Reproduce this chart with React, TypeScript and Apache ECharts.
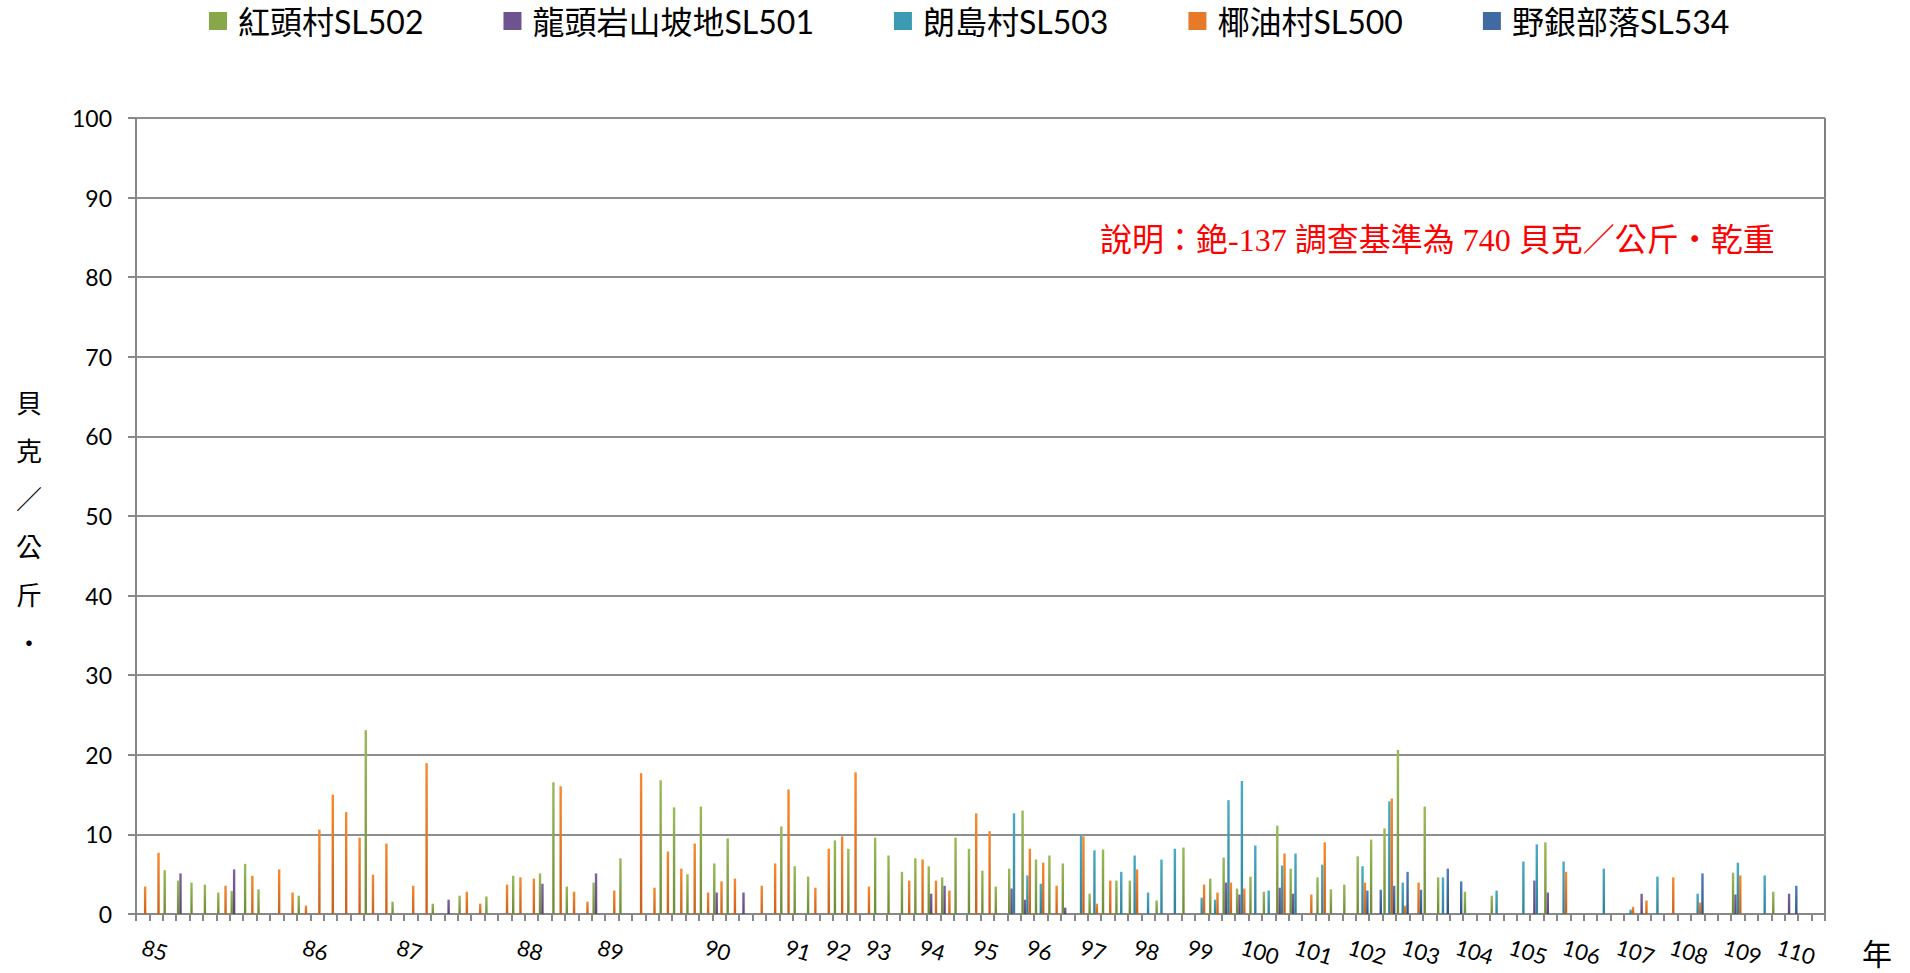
import React, { useEffect, useRef } from 'react';
import * as echarts from 'echarts';

// number of sampling occasions (categories on the x axis)
const sampleCount = 126;

// year labels: [category index, label]
const yearLabels: [number, string][] = [
  [0, '85'], [12, '86'], [19, '87'], [28, '88'], [34, '89'], [42, '90'], [48, '91'], [51, '92'],
  [54, '93'], [58, '94'], [62, '95'], [66, '96'], [70, '97'], [74, '98'], [78, '99'], [82, '100'],
  [86, '101'], [90, '102'], [94, '103'], [98, '104'], [102, '105'], [106, '106'], [110, '107'],
  [114, '108'], [118, '109'], [122, '110'],
];

const seriesNames = ['紅頭村SL502', '龍頭岩山坡地SL501', '朗島村SL503', '椰油村SL500', '野銀部落SL534'];

// values: [category index, 貝克/公斤]
const hongtou: [number, number][] = [
  [2, 5.5], [3, 4.2], [4, 3.95], [5, 3.7], [6, 2.7], [7, 2.9], [8, 6.3], [9, 3.1], [12, 2.3], [17, 23.1],
  [19, 1.55], [22, 1.3], [24, 2.3], [26, 2.2], [28, 4.8], [30, 5.1], [31, 16.55], [32, 3.45], [34, 3.95],
  [36, 7.0], [39, 16.8], [40, 13.4], [41, 5.0], [42, 13.5], [43, 6.35], [44, 9.5], [48, 11.0], [49, 6.0],
  [50, 4.7], [52, 9.25], [53, 8.2], [55, 9.6], [56, 7.35], [57, 5.3], [58, 7.0], [59, 6.0], [60, 4.6],
  [61, 9.6], [62, 8.2], [63, 5.45], [64, 3.45], [65, 5.7], [66, 13.0], [67, 6.85], [68, 7.35], [69, 6.35],
  [71, 2.55], [72, 8.1], [73, 4.2], [74, 4.2], [76, 1.7], [78, 8.35], [80, 4.45], [81, 7.1], [82, 3.2],
  [83, 4.7], [84, 2.8], [85, 11.1], [86, 5.7], [88, 4.6], [89, 3.1], [90, 3.7], [91, 7.25], [92, 9.35],
  [93, 10.75], [94, 20.6], [96, 13.5], [97, 4.6], [99, 2.8], [101, 2.3], [105, 9.0], [119, 5.2], [122, 2.8],
];

const longtouyan: [number, number][] = [
  [3, 5.1], [7, 5.6], [23, 1.8], [30, 3.8], [34, 5.1], [43, 2.7], [45, 2.7], [59, 2.55], [60, 3.55],
  [65, 3.2], [66, 1.8], [69, 0.8], [81, 3.95], [82, 2.45], [85, 3.3], [86, 2.55], [104, 4.2], [105, 2.7],
  [112, 2.55], [119, 2.45], [123, 2.55],
];

const langdao: [number, number][] = [
  [65, 12.65], [66, 4.85], [67, 3.8], [70, 9.9], [71, 8.0], [73, 5.3], [74, 7.35], [75, 2.7], [76, 6.85],
  [77, 8.2], [79, 2.05], [80, 1.8], [81, 14.3], [82, 16.7], [83, 8.6], [84, 2.95], [85, 6.1], [86, 7.6],
  [88, 6.2], [91, 6.0], [93, 14.15], [94, 3.95], [97, 4.6], [101, 2.95], [103, 6.6], [104, 8.75],
  [106, 6.6], [109, 5.7], [111, 0.55], [113, 4.7], [116, 2.55], [119, 6.45], [121, 4.85],
];

const yeyou: [number, number][] = [
  [0, 3.45], [1, 7.7], [6, 3.55], [8, 4.8], [10, 5.6], [11, 2.7], [12, 1.05], [13, 10.6], [14, 15.0],
  [15, 12.8], [16, 9.6], [17, 4.95], [18, 8.85], [20, 3.55], [21, 18.95], [24, 2.8], [25, 1.3], [27, 3.7],
  [28, 4.6], [29, 4.45], [31, 16.05], [32, 2.8], [33, 1.55], [35, 2.95], [37, 17.7], [38, 3.3], [39, 7.85],
  [40, 5.7], [41, 8.85], [42, 2.7], [43, 4.1], [44, 4.45], [46, 3.55], [47, 6.35], [48, 15.65], [50, 3.3],
  [51, 8.2], [52, 9.75], [53, 17.8], [54, 3.45], [57, 4.2], [58, 6.85], [59, 4.2], [60, 2.95], [62, 12.65],
  [63, 10.4], [66, 8.2], [67, 6.45], [68, 3.55], [70, 9.75], [71, 1.3], [72, 4.2], [74, 5.6], [79, 3.7],
  [80, 2.7], [81, 3.95], [82, 3.2], [85, 7.6], [87, 2.45], [88, 9.0], [91, 3.95], [93, 14.5], [94, 1.05],
  [95, 3.95], [106, 5.3], [111, 0.9], [112, 1.7], [114, 4.6], [116, 1.45], [119, 4.85],
];

const yeyin: [number, number][] = [
  [91, 2.95], [92, 3.05], [93, 3.55], [94, 5.3], [95, 3.05], [97, 5.7], [98, 4.1], [116, 5.1], [123, 3.55],
];

const yMax = 100;
const yInterval = 10;

const colorPairs: [string, string][] = [
  ['#9BBB59', '#6E8A35'],
  ['#8064A2', '#5B4578'],
  ['#4BACC6', '#2E8199'],
  ['#F88A2E', '#C9611A'],
  ['#4F81BD', '#2D5186'],
];
const legendColors = ['#86A848', '#6E548F', '#3D9AB3', '#E67A28', '#3F6AA3'];

const noteText = '說明：銫-137 調查基準為 740 貝克／公斤・乾重';
const yName = '貝克／公斤・';
const xName = '年';

function toSeries(pairs: [number, number][]) {
  const arr: (number | null)[] = new Array(sampleCount).fill(null);
  pairs.forEach(([i, v]) => {
    arr[i] = v;
  });
  return arr;
}

export default function App() {
  const ref = useRef<HTMLDivElement>(null);

  useEffect(() => {
    if (!ref.current) return;
    const chart = echarts.init(ref.current, undefined, { renderer: 'svg' });
    const labelMap: Record<number, string> = {};
    yearLabels.forEach(([i, l]) => {
      labelMap[i] = l;
    });
    const categories = Array.from({ length: sampleCount }, (_, i) => 'c' + i);
    const allData = [hongtou, longtouyan, langdao, yeyou, yeyin];

    const series = seriesNames.map((name, si) => ({
      name,
      type: 'bar',
      data: toSeries(allData[si]),
      barGap: '0%',
      barCategoryGap: '10%',
      itemStyle: {
        color: new echarts.graphic.LinearGradient(0, 0, 0, 1, [
          { offset: 0, color: colorPairs[si][0] },
          { offset: 1, color: colorPairs[si][1] },
        ]),
      },
    }));

    const latinCjk = "Lato, 'Noto Sans CJK TC', sans-serif";

    chart.setOption({
      animation: false,
      backgroundColor: '#ffffff',
      legend: {
        top: 5,
        left: 209,
        padding: 0,
        itemWidth: 18,
        itemHeight: 18,
        itemGap: 80,
        icon: 'rect',
        symbolKeepAspect: false,
        textStyle: { fontSize: 32, color: '#000', fontFamily: latinCjk, padding: [0, 0, 0, 6] },
        data: seriesNames.map((name, i) => ({
          name,
          itemStyle: { color: legendColors[i], borderWidth: 0, opacity: 1 },
        })),
      },
      grid: {
        left: 136,
        right: 85,
        top: 118,
        bottom: 59,
        show: true,
        borderColor: '#000',
        borderWidth: 1,
        backgroundColor: 'transparent',
        outerBoundsMode: 'none',
      },
      xAxis: {
        type: 'category',
        data: categories,
        axisLine: { lineStyle: { color: '#888888', width: 2 } },
        axisTick: { show: true, interval: 0, length: 7, lineStyle: { color: '#888888', width: 2 } },
        axisLabel: {
          interval: 0,
          rotate: -17,
          margin: 32,
          fontSize: 22,
          color: '#000',
          fontFamily: latinCjk,
          formatter: (_v: string, idx: number) => labelMap[idx] || '',
        },
        splitLine: { show: false },
      },
      yAxis: {
        type: 'value',
        min: 0,
        max: yMax,
        interval: yInterval,
        axisLine: { show: true, lineStyle: { color: '#888888', width: 2 } },
        axisTick: { show: true, length: 8, lineStyle: { color: '#888888', width: 2 } },
        axisLabel: { fontSize: 23, color: '#000', margin: 24, fontFamily: latinCjk },
        splitLine: { show: true, lineStyle: { color: '#8f8f8f', width: 2 } },
      },
      graphic: [
        {
          type: 'text',
          x: 1100,
          y: 240,
          style: {
            text: noteText,
            fontSize: 32,
            fill: '#ff0000',
            fontFamily: "'Liberation Serif', 'Noto Sans CJK TC', serif",
            textAlign: 'left',
            textVerticalAlign: 'middle',
          },
        },
        {
          type: 'text',
          x: 29,
          y: 521,
          style: {
            text: yName.split('').join('\n'),
            fontSize: 26,
            lineHeight: 48,
            fill: '#000',
            fontFamily: "'Noto Sans CJK TC', serif",
            textAlign: 'center',
            textVerticalAlign: 'middle',
          },
        },
        {
          type: 'text',
          x: 1877,
          y: 952,
          style: {
            text: xName,
            fontSize: 30,
            fill: '#000',
            fontFamily: "'Noto Sans CJK TC', serif",
            textAlign: 'center',
            textVerticalAlign: 'middle',
          },
        },
      ],
      series,
    });
    return () => chart.dispose();
  }, []);

  return (
    <div
      ref={ref}
      style={{ position: 'fixed', left: 0, top: 0, width: '1910px', height: '973px', background: '#fff' }}
    />
  );
}
